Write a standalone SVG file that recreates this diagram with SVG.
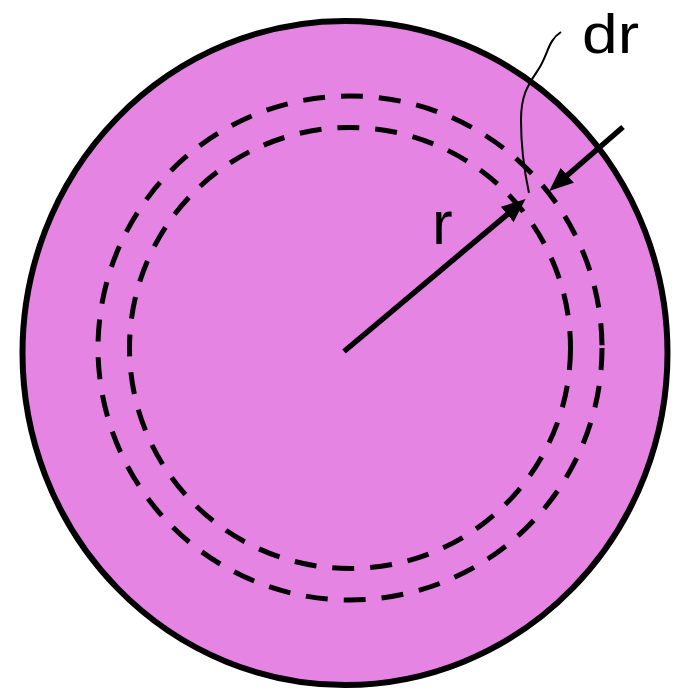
<svg xmlns="http://www.w3.org/2000/svg" width="679" height="692" viewBox="0 0 679 692">
  <style>
    .dash { fill: none; stroke: #000; stroke-width: 5; stroke-dasharray: 22 16; }
    .arrow { stroke: #000; stroke-width: 5.5; fill: none; }
    .lbl { font-family: "Liberation Sans", Arial, sans-serif; fill: #000; }
  </style>
  <defs>
    <marker id="head" viewBox="0 0 24 20" refX="11" refY="10" markerWidth="24" markerHeight="20" markerUnits="userSpaceOnUse" orient="auto">
      <path d="M0,0 L24,10 L0,20 Z" fill="#000"/>
    </marker>
  </defs>
  <g id="disk">
    <ellipse cx="345" cy="353" rx="322.5" ry="332" fill="#e584e2" stroke="#000" stroke-width="6"/>
  </g>
  <g id="shell">
    <circle cx="350" cy="348" r="252" class="dash"/>
    <circle cx="350" cy="348" r="220.5" class="dash"/>
  </g>
  <g id="connectors">
    <line x1="344" y1="351.5" x2="515.6" y2="207.4" class="arrow" marker-end="url(#head)"/>
    <line x1="623" y1="127" x2="559.0" y2="182.5" class="arrow" marker-end="url(#head)"/>
    <path d="M561,32 C548,40 548,55 538,70 C528,85 521,95 521,120 C521,150 524,170 529,193" fill="none" stroke="#000" stroke-width="2"/>
  </g>
  <g id="labels">
    <text x="432" y="244" class="lbl" font-size="62">r</text>
    <text x="582" y="53" class="lbl" font-size="56" textLength="57" lengthAdjust="spacingAndGlyphs">dr</text>
  </g>
</svg>
